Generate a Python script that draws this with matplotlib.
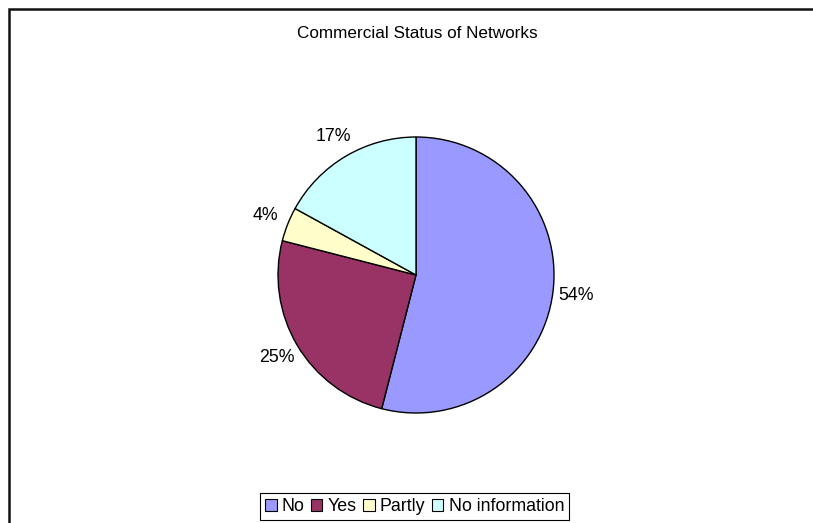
import matplotlib.pyplot as plt
from matplotlib.patches import Rectangle, Patch

plt.rcParams['font.family'] = ['Liberation Sans', 'DejaVu Sans']

labels = ['No', 'Yes', 'Partly', 'No information']
values = [54, 25, 4, 17]
pct_labels = ['54%', '25%', '4%', '17%']
colors = ['#9999FF', '#993366', '#FFFFCC', '#CCFFFF']

W, H = 813, 523
fig = plt.figure(figsize=(W / 100, H / 100), dpi=100)

# chart frame (right and bottom edges run off the image)
fig.add_artist(Rectangle((8.5 / W, -0.1), 2, 1 - 9 / H + 0.1, transform=fig.transFigure,
                         fill=False, edgecolor='#111111', linewidth=1.8))

# pie, center ~ (416, 275), radius ~138 px
ax = fig.add_axes([278 / W, (H - 413) / H, 276 / W, 276 / H])
wedges, texts = ax.pie(values, labels=pct_labels, colors=colors, startangle=90,
                       counterclock=False, labeldistance=1.17,
                       wedgeprops=dict(edgecolor='black', linewidth=1.0),
                       textprops=dict(fontsize=12.8, color='black'))
for t in texts:
    t.set_ha('center')
    t.set_va('center')
ax.set_xlim(-1, 1)
ax.set_ylim(-1, 1)
ax.set_aspect('equal')

fig.text(417 / W, 1 - 34 / H, 'Commercial Status of Networks', ha='center', va='center', fontsize=12.3)

handles = [Patch(facecolor=c, edgecolor='black', linewidth=0.8) for c in colors]
leg = fig.legend(handles, labels, loc='center', bbox_to_anchor=(414.5 / W, 1 - 506.5 / H),
                 ncol=4, fontsize=12.8, frameon=True, fancybox=False, framealpha=1,
                 edgecolor='black', handlelength=0.65, handleheight=0.65, handletextpad=0.3,
                 columnspacing=0.35, borderpad=0.3, borderaxespad=0)
leg.get_frame().set_linewidth(0.8)

fig.savefig('out.png', dpi=100)
